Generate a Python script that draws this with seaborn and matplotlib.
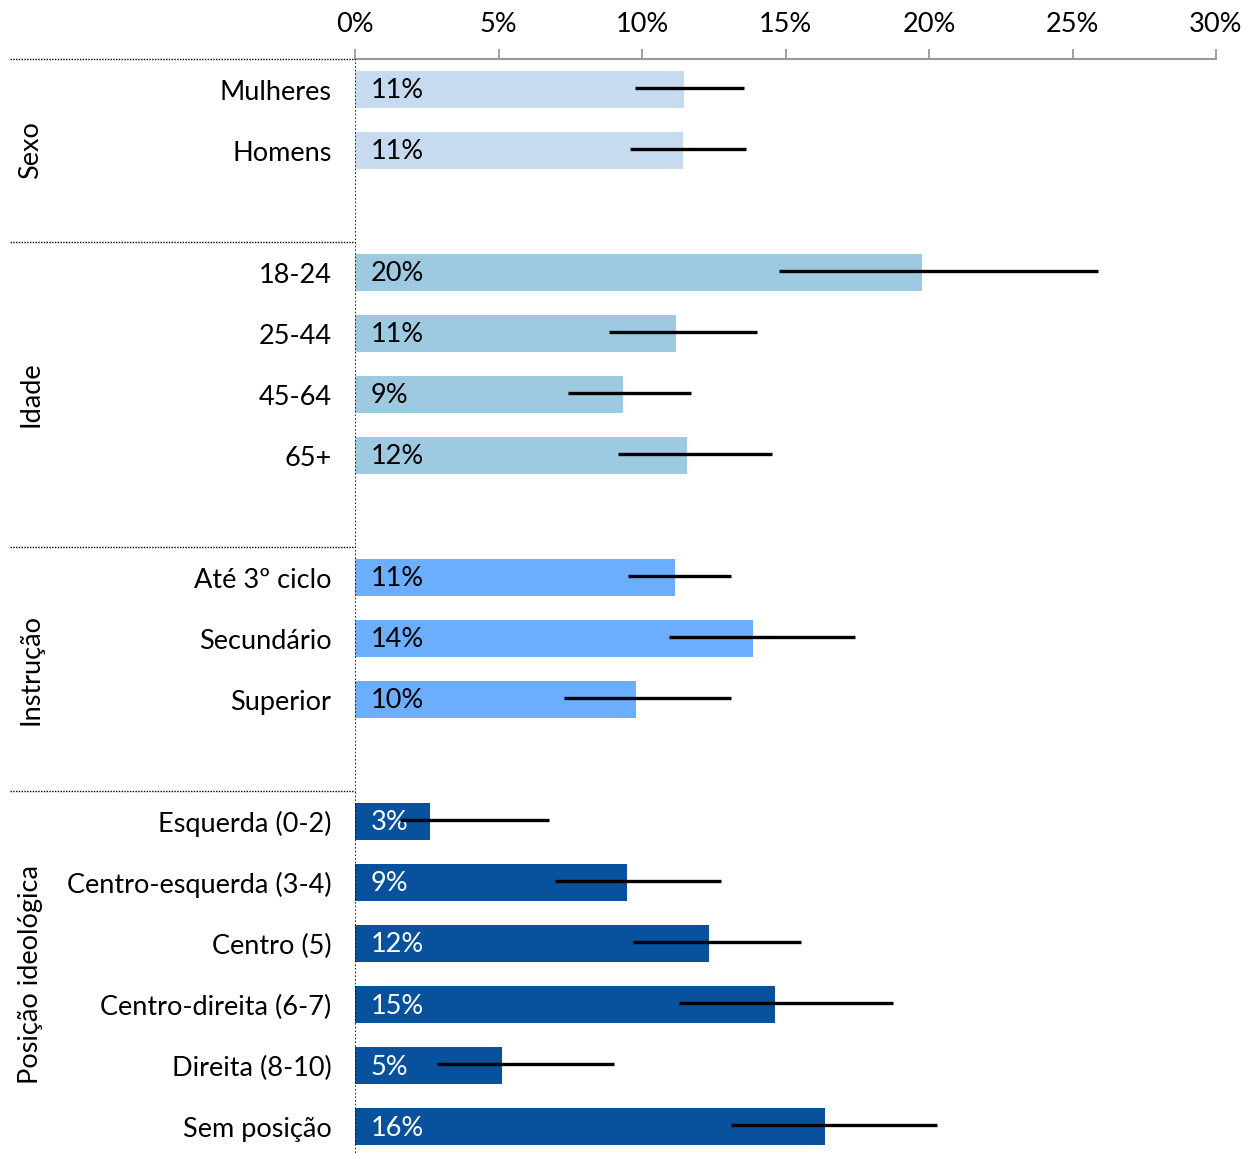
import numpy as np
import pandas as pd
import seaborn as sns
import matplotlib.pyplot as plt

# dados (percentagens)
grupos = ["Sexo", "Idade", "Instrução", "Posição ideológica"]
categorias = [
    ["Mulheres", "Homens"],
    ["18-24", "25-44", "45-64", "65+"],
    ["Até 3º ciclo", "Secundário", "Superior"],
    ["Esquerda (0-2)", "Centro-esquerda (3-4)", "Centro (5)",
     "Centro-direita (6-7)", "Direita (8-10)", "Sem posição"],
]
valores = [
    [11.48, 11.43],
    [19.76, 11.18, 9.34, 11.57],
    [11.15, 13.87, 9.79],
    [2.61, 9.48, 12.33, 14.63, 5.12, 16.38],
]
limite_inf = [
    [9.76, 9.58],
    [14.77, 8.85, 7.42, 9.16],
    [9.51, 10.94, 7.28],
    [1.57, 6.97, 9.69, 11.29, 2.86, 13.1],
]
limite_sup = [
    [13.55, 13.62],
    [25.89, 14.0, 11.71, 14.53],
    [13.1, 17.42, 13.1],
    [6.76, 12.75, 15.54, 18.75, 9.02, 20.28],
]
cores = ["#c6dbef", "#9ecae1", "#6aaefd", "#08519c"]
cor_texto = ["black", "black", "black", "white"]

# montar tabela com posições (uma linha vazia entre grupos)
linhas = []
pos = 0
inicio_grupo = []
for g, grupo in enumerate(grupos):
    inicio_grupo.append(pos)
    for i, cat in enumerate(categorias[g]):
        linhas.append([grupo, cat, pos, valores[g][i], limite_inf[g][i], limite_sup[g][i]])
        pos += 1
    pos += 1
df = pd.DataFrame(linhas, columns=["Grupo", "Categoria", "Pos", "Valor", "Inf", "Sup"])

plt.rcParams["font.family"] = ["Lato", "DejaVu Sans"]
fs = 19.5
fig = plt.figure(figsize=(12.54, 11.53), dpi=100)
ax = fig.add_axes([355 / 1254, 0.0, (1216 - 355) / 1254, 1 - 59 / 1153])

sns.barplot(data=df, x="Valor", y="Pos", hue="Grupo", palette=cores, orient="h",
            native_scale=True, dodge=False, width=0.6, saturation=1,
            legend=False, ax=ax)

# barras de erro
ax.hlines(df["Pos"] - 0.03, df["Inf"], df["Sup"], color="black", lw=2.4, zorder=5)

# rótulos dentro das barras
for _, r in df.iterrows():
    g = grupos.index(r["Grupo"])
    ax.text(0.55, r["Pos"] - 0.02, f"{r['Valor']:.0f}%", va="center_baseline", ha="left",
            fontsize=fs, color=cor_texto[g], zorder=4)

ax.set_xlim(0, 30)
ax.set_ylim(17.43, -0.5)
ax.xaxis.tick_top()
ax.set_xticks(range(0, 31, 5))
ax.set_xticklabels([f"{t}%" for t in range(0, 31, 5)], fontsize=fs)
ax.tick_params(axis="x", length=7, width=1.3, color="#999999", pad=9)
ax.set_yticks(df["Pos"])
ax.set_yticklabels(df["Categoria"], fontsize=fs)
ax.tick_params(axis="y", length=0, pad=17)
ax.set_xlabel("")
ax.set_ylabel("")

for s in ["right", "bottom", "left"]:
    ax.spines[s].set_visible(False)
ax.spines["top"].set_color("#999999")
ax.spines["top"].set_linewidth(1.5)
ax.axvline(0, color="black", lw=1.2, ls=(0, (1, 1.2)), zorder=6)

# separadores pontilhados e nomes dos grupos
x_esq = -345 / 28.7
for g, grupo in enumerate(grupos):
    y0 = inicio_grupo[g] - 0.5
    ax.plot([x_esq, 0], [y0, y0], color="black", lw=1.0, ls=(0, (1, 1)), clip_on=False)
    if g + 1 < len(grupos):
        y1 = inicio_grupo[g + 1] - 0.5
    else:
        y1 = inicio_grupo[g] + len(categorias[g]) - 0.5
    ax.text(-324 / 28.7, (y0 + y1) / 2, grupo, rotation=90, ha="center", va="center",
            fontsize=fs, clip_on=False)

plt.savefig("out.png", dpi=100)
